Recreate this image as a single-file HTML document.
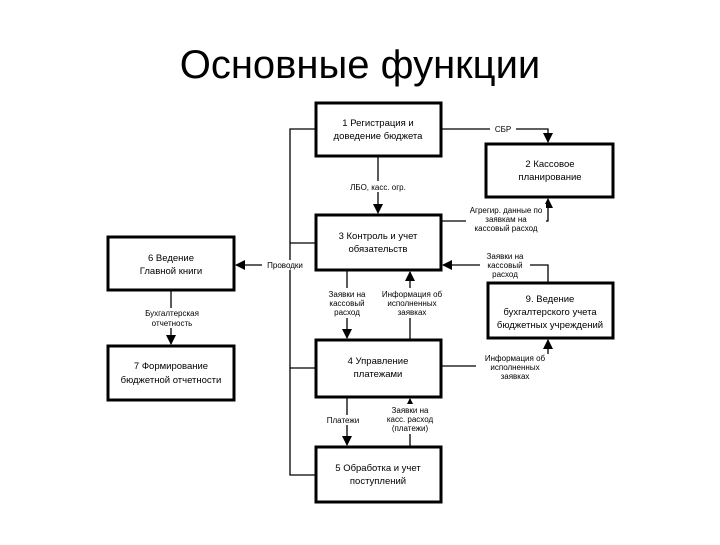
<!DOCTYPE html>
<html><head><meta charset="utf-8"><style>
body{margin:0;background:#fff;}
svg text{font-family:"Liberation Sans",sans-serif;}
</style></head><body>
<svg width="720" height="540" xmlns="http://www.w3.org/2000/svg">
<defs><marker id="a" markerWidth="10" markerHeight="10" refX="9" refY="5" orient="auto" markerUnits="userSpaceOnUse"><path d="M0,0 L10,5 L0,10 z" fill="#000"/></marker></defs>
<text x="360" y="78" font-size="40" text-anchor="middle" fill="#000">Основные функции</text>
<g fill="none" stroke="#000" stroke-width="3">
<rect x="316" y="103" width="125" height="53"/>
<rect x="486" y="144" width="127" height="53"/>
<rect x="316" y="215" width="125" height="55"/>
<rect x="108" y="237" width="126" height="53"/>
<rect x="488" y="283" width="125" height="55"/>
<rect x="108" y="346" width="126" height="54"/>
<rect x="316" y="340" width="125" height="57"/>
<rect x="316" y="447" width="125" height="55"/>
</g>
<g fill="none" stroke="#000" stroke-width="1.3">
<polyline points="316,129 290,129 290,475 316,475"/>
<line x1="290" y1="243" x2="316" y2="243"/>
<line x1="290" y1="368" x2="316" y2="368"/>
<line x1="290" y1="265" x2="236" y2="265" marker-end="url(#a)"/>
<polyline points="441,129 548,129 548,142" marker-end="url(#a)"/>
<line x1="378" y1="156" x2="378" y2="213" marker-end="url(#a)"/>
<polyline points="441,221 548,221 548,199" marker-end="url(#a)"/>
<polyline points="548,283 548,265 443,265" marker-end="url(#a)"/>
<line x1="347" y1="270" x2="347" y2="338" marker-end="url(#a)"/>
<line x1="410" y1="340" x2="410" y2="272" marker-end="url(#a)"/>
<polyline points="441,366 548,366 548,340" marker-end="url(#a)"/>
<line x1="347" y1="397" x2="347" y2="445" marker-end="url(#a)"/>
<line x1="410" y1="447" x2="410" y2="399" marker-end="url(#a)"/>
<line x1="171" y1="290" x2="171" y2="344" marker-end="url(#a)"/>
</g>
<g font-size="8" text-anchor="middle" fill="#000">
<rect x="490" y="124" width="26" height="10" fill="#fff"/><text x="503" y="132">СБР</text>
<rect x="340" y="181" width="76" height="11" fill="#fff"/><text x="378" y="190">ЛБО, касс. огр.</text>
<rect x="466" y="204" width="80" height="28" fill="#fff"/><text x="506" y="213">Агрегир. данные по</text><text x="506" y="222">заявкам на</text><text x="506" y="231">кассовый расход</text>
<rect x="480" y="251" width="50" height="28" fill="#fff"/><text x="505" y="259">Заявки на</text><text x="505" y="268">кассовый</text><text x="505" y="277">расход</text>
<rect x="262" y="260" width="46" height="10" fill="#fff"/><text x="285" y="268">Проводки</text>
<rect x="320" y="288" width="54" height="30" fill="#fff"/><text x="347" y="297">Заявки на</text><text x="347" y="306">кассовый</text><text x="347" y="315">расход</text>
<rect x="380" y="288" width="62" height="30" fill="#fff"/><text x="412" y="297">Информация об</text><text x="412" y="306">исполненных</text><text x="412" y="315">заявках</text>
<rect x="476" y="354" width="78" height="28" fill="#fff"/><text x="515" y="361">Информация об</text><text x="515" y="370">исполненных</text><text x="515" y="379">заявках</text>
<rect x="140" y="308" width="64" height="20" fill="#fff"/><text x="172" y="316">Бухгалтерская</text><text x="172" y="326">отчетность</text>
<rect x="320" y="415" width="52" height="10" fill="#fff"/><text x="343" y="423">Платежи</text>
<rect x="380" y="404" width="62" height="30" fill="#fff"/><text x="410" y="413">Заявки на</text><text x="410" y="422">касс. расход</text><text x="410" y="431">(платежи)</text>
</g>
<g font-size="9.5" text-anchor="middle" fill="#000">
<text x="378" y="126">1 Регистрация и</text><text x="378" y="139">доведение бюджета</text>
<text x="550" y="167">2 Кассовое</text><text x="550" y="180">планирование</text>
<text x="378" y="239">3 Контроль и учет</text><text x="378" y="252">обязательств</text>
<text x="171" y="261">6 Ведение</text><text x="171" y="274">Главной книги</text>
<text x="550" y="302">9.  Ведение</text><text x="550" y="315">бухгалтерского учета</text><text x="550" y="328">бюджетных учреждений</text>
<text x="171" y="369">7 Формирование</text><text x="171" y="383">бюджетной отчетности</text>
<text x="378" y="364">4 Управление</text><text x="378" y="377">платежами</text>
<text x="378" y="471">5 Обработка и учет</text><text x="378" y="484">поступлений</text>
</g>
</svg>
</body></html>
